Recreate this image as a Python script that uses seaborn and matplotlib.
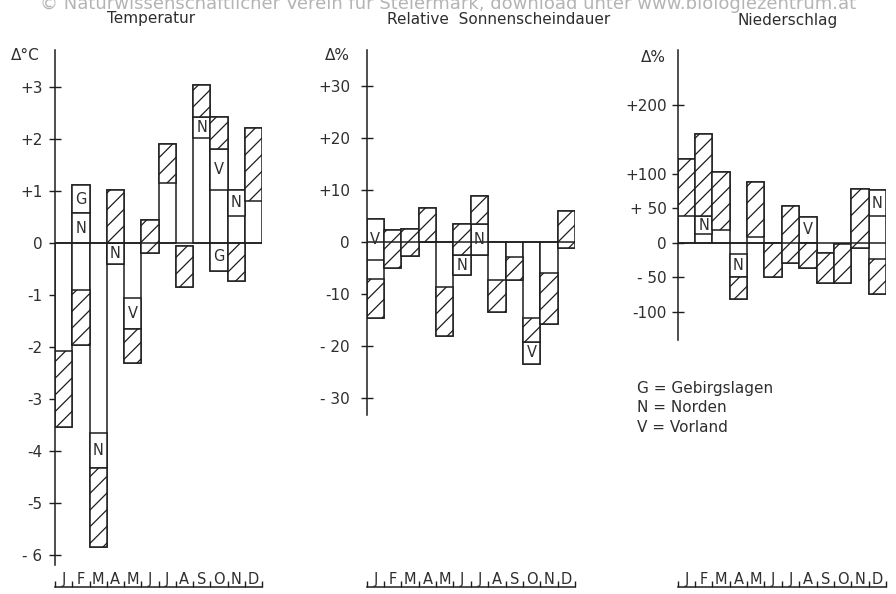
import numpy as np
import matplotlib
matplotlib.use('Agg')
import matplotlib.pyplot as plt
import seaborn as sns

# Monatsbuchstaben
months = ['J', 'F', 'M', 'A', 'M', 'J', 'J', 'A', 'S', 'O', 'N', 'D']

# Temperatur (Abweichung in °C): schraffierter Bereich und gesamte Saeule
temp_hatch_lo = [-3.54, -1.97, -5.84, 0.00, -2.31, -0.20, 1.16, -0.85, 2.43, 1.81, -0.74, 0.81]
temp_hatch_hi = [-2.08, -0.90, -4.33, 1.02, -1.66, 0.44, 1.90, -0.06, 3.03, 2.43, 0.00, 2.22]
temp_box_lo = [-3.54, -1.97, -5.84, -0.40, -2.31, -0.20, 0.00, -0.85, 0.00, -0.53, -0.74, 0.00]
temp_box_hi = [0.00, 1.12, 0.00, 1.02, 0.00, 0.44, 1.90, -0.06, 3.03, 2.43, 1.02, 2.22]
# Regionen mit eigenem Feld: (Monat, Buchstabe, unten, oben)
temp_regions = [(1, 'G', 0.57, 1.12), (1, 'N', 0.00, 0.57), (2, 'N', -4.33, -3.66),
                (3, 'N', -0.40, 0.00), (4, 'V', -1.66, -1.06), (8, 'N', 2.02, 2.43),
                (9, 'V', 1.02, 1.81), (9, 'G', -0.53, 0.00), (10, 'N', 0.52, 1.02)]
temp_ticks = [3, 2, 1, 0, -1, -2, -3, -4, -5, -6]
temp_ticklabels = ['+3', '+2', '+1', '0', '-1', '-2', '-3', '-4', '-5', '- 6']

# Relative Sonnenscheindauer (Abweichung in %)
sun_hatch_lo = [-14.6, -4.9, -2.6, 0.0, -18.0, -2.4, 3.5, -13.3, -7.2, -19.1, -15.7, -1.0]
sun_hatch_hi = [-7.1, 2.4, 2.6, 6.7, -8.5, 3.5, 8.9, -7.2, -2.7, -14.6, -5.9, 6.1]
sun_box_lo = [-14.6, -4.9, -2.6, 0.0, -18.0, -6.3, -2.4, -13.3, -7.2, -23.4, -15.7, -1.0]
sun_box_hi = [4.5, 2.4, 2.6, 6.7, 0.0, 3.5, 8.9, 0.0, 0.0, 0.0, 0.0, 6.1]
sun_regions = [(0, 'V', -3.3, 4.5), (5, 'N', -6.3, -2.4), (6, 'N', -2.4, 3.5),
               (9, 'V', -23.4, -19.1)]
sun_ticks = [30, 20, 10, 0, -10, -20, -30]
sun_ticklabels = ['+30', '+20', '+10', '0', '-10', '- 20', '- 30']

# Niederschlag (Abweichung in %)
prec_hatch_lo = [39, 39, 19, -81, 8, -49, -30, -37, -58, -58, -8, -74]
prec_hatch_hi = [121, 158, 103, -49, 88, -1, 53, 0, -15, -2, 78, -24]
prec_box_lo = [0, 0, 0, -81, 0, -49, -30, -37, -58, -58, -8, -74]
prec_box_hi = [121, 158, 103, 0, 88, -1, 53, 37, -15, -2, 78, 76]
prec_regions = [(1, 'N', 12, 39), (3, 'N', -49, -16), (7, 'V', 0, 37), (11, 'N', 39, 76)]
prec_ticks = [200, 100, 50, 0, -50, -100]
prec_ticklabels = ['+200', '+100', '+ 50', '0', '- 50', '-100']

legend_lines = ['G = Gebirgslagen', 'N = Norden', 'V = Vorland']

sns.set_theme(style='white')
plt.rcParams['font.family'] = ['DejaVu Sans']
plt.rcParams['hatch.linewidth'] = 0.9

INK = '#1e1e1e'
TXT = '#2e2e2e'
W, H = 896, 594

fig = plt.figure(figsize=(W / 100, H / 100), dpi=100)


def px(x, y):
    # Pixel -> Figurenkoordinaten
    return x / W, 1 - y / H


def floating_bars(ax, lo, hi, **kw):
    # seaborn zeichnet die Hoehe, danach wird der Fuss verschoben
    n0 = len(ax.patches)
    sns.barplot(x=np.arange(len(lo)), y=np.subtract(hi, lo), ax=ax, width=1,
                saturation=1, color='white', edgecolor=INK, linewidth=1.1, **kw)
    for p, b in zip(ax.patches[n0:], lo):
        p.set_y(b)


def panel(x0, x1, zero_px, px_per_unit, box_lo, box_hi, hatch_lo, hatch_hi,
          regions, ticks, ticklabels, spine_px, pad):
    top_px, bot_px = 40, 587
    l, b = px(x0, bot_px)
    ax = fig.add_axes([l, b, (x1 - x0) / W, (bot_px - top_px) / H])

    floating_bars(ax, box_lo, box_hi)
    for m, letter, lo, hi in regions:
        ax.bar(m, hi - lo, bottom=lo, width=1, color='white', edgecolor=INK, linewidth=1.1)
        ax.text(m, (lo + hi) / 2, letter, ha='center', va='center', fontsize=10.5, color=TXT)
    floating_bars(ax, hatch_lo, hatch_hi, hatch='//')
    # Buchstaben wieder nach oben holen
    for t in ax.texts:
        t.set_zorder(5)

    ax.axhline(0, color=INK, lw=1.1, zorder=4)

    ax.set_xlim(-0.5, 11.5)
    ax.set_ylim((zero_px - bot_px) / px_per_unit, (zero_px - top_px) / px_per_unit)

    for s in ['top', 'right']:
        ax.spines[s].set_visible(False)
    ax.spines['left'].set_bounds((zero_px - spine_px[1]) / px_per_unit,
                                 (zero_px - spine_px[0]) / px_per_unit)
    ax.spines['left'].set_color(INK)
    ax.spines['left'].set_linewidth(1.1)
    ax.spines['bottom'].set_color(INK)
    ax.spines['bottom'].set_linewidth(1.1)

    ax.set_yticks(ticks, labels=ticklabels)
    ax.tick_params(axis='y', direction='inout', length=8, width=1, color=INK,
                   labelsize=11, labelcolor=TXT, pad=pad, left=True)

    ax.set_xticks(np.arange(-0.5, 12), labels=[''] * 13)
    ax.set_xticks(np.arange(12), labels=months, minor=True)
    ax.tick_params(axis='x', which='major', direction='in', length=4, width=1,
                   color=INK, bottom=True)
    ax.tick_params(axis='x', which='minor', length=0, pad=-10.5, labelsize=10.5,
                   labelcolor=TXT, bottom=True)
    ax.set_xlabel('')
    ax.set_ylabel('')
    ax.grid(False)
    return ax


panel(55, 262, 243, 52, temp_box_lo, temp_box_hi, temp_hatch_lo, temp_hatch_hi,
      temp_regions, temp_ticks, temp_ticklabels, (50, 565), 5)
panel(366.7, 575, 242.5, 5.2, sun_box_lo, sun_box_hi, sun_hatch_lo, sun_hatch_hi,
      sun_regions, sun_ticks, sun_ticklabels, (50, 415), 8)
panel(677.7, 886, 242.7, 0.69, prec_box_lo, prec_box_hi, prec_hatch_lo, prec_hatch_hi,
      prec_regions, prec_ticks, prec_ticklabels, (50, 340), 4)

# Titel und Einheiten
fig.text(*px(448, 9), '© Naturwissenschaftlicher Verein für Steiermark, download unter www.biologiezentrum.at',
         ha='center', va='baseline', fontsize=13, color='#b4b4b4')
fig.text(*px(151, 19), 'Temperatur', ha='center', va='center', fontsize=11, color=TXT)
fig.text(*px(499, 19), 'Relative  Sonnenscheindauer', ha='center', va='center', fontsize=11, color=TXT)
fig.text(*px(788, 21), 'Niederschlag', ha='center', va='center', fontsize=11, color=TXT)
fig.text(*px(25, 55), 'Δ°C', ha='center', va='center', fontsize=11, color=TXT)
fig.text(*px(337, 55), 'Δ%', ha='center', va='center', fontsize=11, color=TXT)
fig.text(*px(653, 58), 'Δ%', ha='center', va='center', fontsize=11, color=TXT)

for i, line in enumerate(legend_lines):
    fig.text(*px(637, 388 + 20 * i), line, ha='left', va='center', fontsize=11, color=TXT)

fig.savefig('out.png', dpi=100, facecolor='white')
